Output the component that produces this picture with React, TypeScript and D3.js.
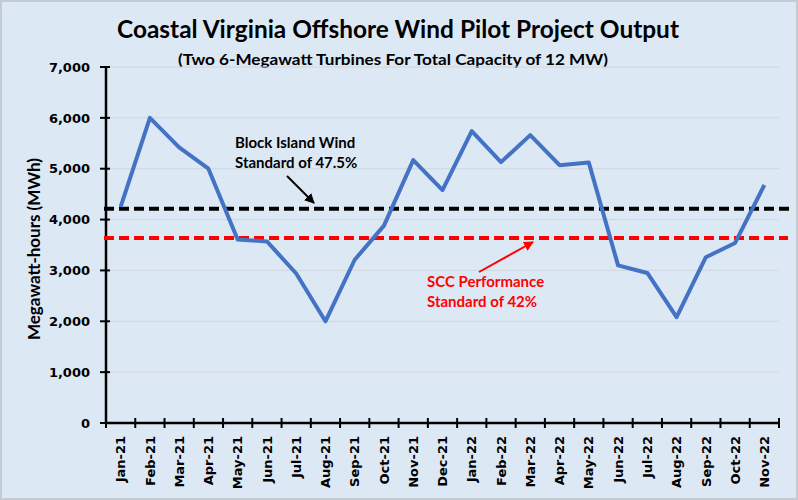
import React from "react";
import * as d3 from "d3";

const months = ["Jan-21","Feb-21","Mar-21","Apr-21","May-21","Jun-21","Jul-21","Aug-21","Sep-21","Oct-21","Nov-21","Dec-21","Jan-22","Feb-22","Mar-22","Apr-22","May-22","Jun-22","Jul-22","Aug-22","Sep-22","Oct-22","Nov-22"];
const output = [4250,6000,5420,5000,3610,3570,2940,2000,3210,3880,5170,4580,5740,5130,5660,5070,5120,3100,2950,2080,3260,3540,4680];
const blockIslandStd = 4215;
const sccStd = 3640;
const yTicks = [0,1000,2000,3000,4000,5000,6000,7000];

const W = 798, H = 500;
const L = 106, R = 779, T = 67, B = 423;
const FONT = "Lato, 'Open Sans', sans-serif";
const AXFONT = "'DejaVu Sans', Verdana, sans-serif";

export default function App() {
  const x = d3.scaleBand<string>().domain(months).range([L, R]).paddingInner(0).paddingOuter(0);
  const y = d3.scaleLinear().domain([0, 7000]).range([B, T]);
  const cx = (m: string) => (x(m) as number) + x.bandwidth() / 2;
  const line = d3.line<number>().x((_, i) => cx(months[i])).y(d => y(d));
  const fmt = d3.format(",");
  const tickXs = months.map(m => x(m) as number).concat([R]);

  return (
    <svg width={W} height={H} style={{ position: "absolute", left: 0, top: 0 }} fontFamily={FONT}>
      <defs>
        <marker id="ah-black" viewBox="0 0 10 10" refX="9" refY="5" markerWidth="5" markerHeight="5" orient="auto">
          <path d="M0,0 L10,5 L0,10 z" fill="#000" />
        </marker>
        <marker id="ah-red" viewBox="0 0 10 10" refX="9" refY="5" markerWidth="5" markerHeight="5" orient="auto">
          <path d="M0,0 L10,5 L0,10 z" fill="#FF0000" />
        </marker>
      </defs>
      <rect x={1} y={1} width={W - 2} height={H - 2} fill="#DDE8F5" stroke="#C3CBD3" strokeWidth={2} />

      <text x={398} y={38} textAnchor="middle" fontSize={24} fontWeight="bold" fill="#000" textLength={562} lengthAdjust="spacingAndGlyphs">Coastal Virginia Offshore Wind Pilot Project Output</text>
      <text x={393} y={65} textAnchor="middle" fontSize={15} fontWeight="bold" fill="#000" textLength={430} lengthAdjust="spacingAndGlyphs">(Two 6-Megawatt Turbines For Total Capacity of 12 MW)</text>

      {yTicks.filter(t => t > 0).map(t => (
        <line key={"g" + t} x1={L} x2={R} y1={y(t)} y2={y(t)} stroke="#D0D6DD" strokeWidth={1} />
      ))}

      {yTicks.map(t => (
        <g key={"yt" + t}>
          <line x1={L - 6} x2={L + 4} y1={y(t)} y2={y(t)} stroke="#000" strokeWidth={2} />
          <text x={90} y={y(t)} dy="0.36em" textAnchor="end" fontSize={13} fontWeight="bold" fill="#000" fontFamily={AXFONT}>{fmt(t)}</text>
        </g>
      ))}

      <text transform={`translate(40,${(T + B) / 2 + 4}) rotate(-90)`} textAnchor="middle" fontSize={17} fontWeight="bold" fill="#000">Megawatt-hours (MWh)</text>

      {tickXs.map((tx, i) => (
        <line key={"xt" + i} x1={tx} x2={tx} y1={B - 5} y2={B + 5} stroke="#000" strokeWidth={2} />
      ))}
      {months.map(m => (
        <text key={"xl" + m} transform={`translate(${cx(m)},${B + 13}) rotate(-90)`} textAnchor="end" dy="0.36em" fontSize={13} fontWeight="bold" fill="#000" fontFamily={AXFONT}>{m}</text>
      ))}

      <line x1={L} x2={L} y1={T} y2={B} stroke="#000" strokeWidth={2.5} />
      <line x1={L} x2={R} y1={B} y2={B} stroke="#000" strokeWidth={2.5} />

      <line x1={L - 2} x2={792} y1={y(blockIslandStd)} y2={y(blockIslandStd)} stroke="#000" strokeWidth={4} strokeDasharray="10 5" />
      <line x1={L - 2} x2={788} y1={y(sccStd)} y2={y(sccStd)} stroke="#FF0000" strokeWidth={4} strokeDasharray="10 5" />

      <path d={line(output) || ""} fill="none" stroke="#4472C4" strokeWidth={4} strokeLinejoin="round" />

      <text x={235} y={148} fontSize={15} fontWeight="bold" fill="#000">Block Island Wind</text>
      <text x={235} y={168} fontSize={15} fontWeight="bold" fill="#000">Standard of 47.5%</text>
      <line x1={287} y1={176} x2={314} y2={203} stroke="#000" strokeWidth={2} markerEnd="url(#ah-black)" />

      <text x={427} y={287} fontSize={15} fontWeight="bold" fill="#FF0000">SCC Performance</text>
      <text x={427} y={307} fontSize={15} fontWeight="bold" fill="#FF0000">Standard of 42%</text>
      <line x1={479} y1={272} x2={533} y2={242} stroke="#FF0000" strokeWidth={2} markerEnd="url(#ah-red)" />
    </svg>
  );
}
